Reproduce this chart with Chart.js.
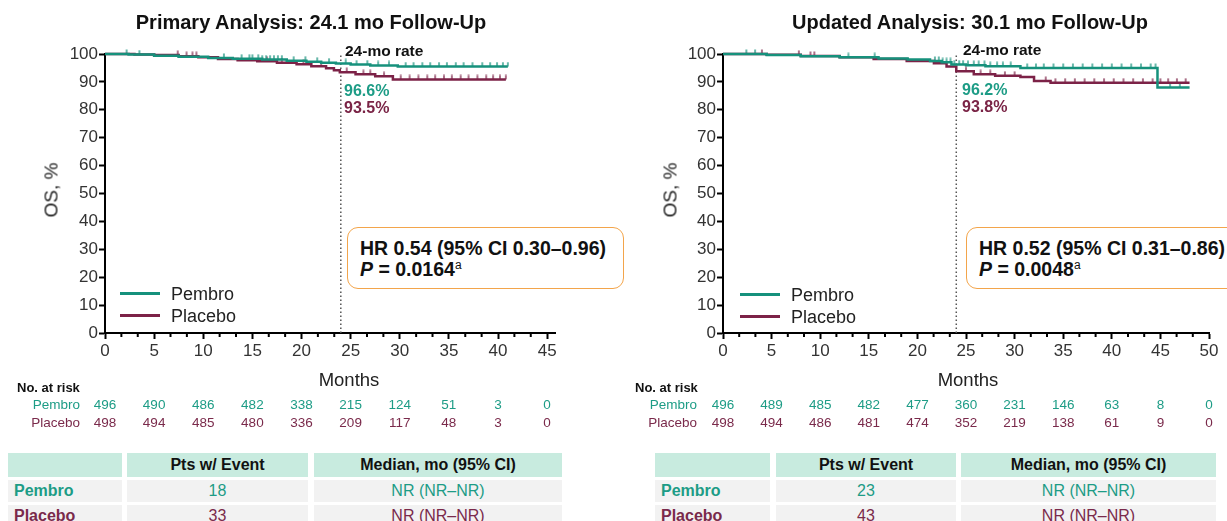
<!DOCTYPE html>
<html>
<head>
<meta charset="utf-8">
<script src="https://cdn.jsdelivr.net/npm/chart.js@4.4.1/dist/chart.umd.min.js"></script>
<style>
  body { margin: 0; width: 1227px; height: 521px; overflow: hidden; background: #fff; position: relative;
         font-family: "Liberation Sans", Arial, sans-serif; color: #222; }
  canvas { position: absolute; top: 0; }
  .t { position: absolute; white-space: nowrap; line-height: 1; }
  .c { transform: translate(-50%, -50%); }
  .l { transform: translateY(-50%); }
  .r { transform: translate(-100%, -50%); }
  .title { font-weight: bold; font-size: 20px; color: #111; }
  .ylab { font-size: 19px; transform: translate(-50%, -50%) rotate(-90deg); }
  .months { font-size: 18.5px; }
  .rate { font-weight: bold; font-size: 15.5px; color: #111; }
  .pct { font-weight: bold; font-size: 16px; }
  .leg { font-size: 18px; }
  .legline { position: absolute; width: 40px; height: 3px; }
  .hrbox { position: absolute; border: 1.5px solid #f3a54b; border-radius: 11px; box-sizing: border-box; background: #fff; }
  .hrbox div { position: absolute; left: 12px; white-space: nowrap; font-weight: bold; font-size: 19.5px; color: #111; line-height: 1; }
  .hrbox sup { font-size: 12px; font-weight: normal; vertical-align: 7px; line-height: 0; }
  .risk { font-size: 13.5px; }
  .riskhead { font-size: 13px; font-weight: bold; color: #111; }
  .cell { position: absolute; display: flex; align-items: center; justify-content: center; font-size: 16px; }
  .hd { background: #c8ebdf; font-weight: bold; color: #111; }
  .row { background: #f2f2f2; }
  .lab { justify-content: flex-start; padding-left: 6px; box-sizing: border-box; font-weight: bold; }
</style>
</head>
<body>
<canvas id="chartA" width="600" height="440" style="left:0"></canvas>
<canvas id="chartB" width="607" height="440" style="left:620px"></canvas>

<div class="t c title" style="left:311px;top:22px">Primary Analysis: 24.1 mo Follow-Up</div>
<div class="t c title" style="left:970px;top:22px">Updated Analysis: 30.1 mo Follow-Up</div>

<div class="t ylab" style="left:51px;top:190px">OS, %</div>
<div class="t ylab" style="left:670px;top:190px">OS, %</div>

<div class="t c months" style="left:349px;top:380px">Months</div>
<div class="t c months" style="left:968px;top:380px">Months</div>

<!-- 24-mo rate notes -->
<div class="t l rate" style="left:345px;top:51px">24-mo rate</div>
<div class="t l pct" style="left:344px;top:91px;color:#1d9c86">96.6%</div>
<div class="t l pct" style="left:344px;top:108px;color:#7a2446">93.5%</div>
<div class="t l rate" style="left:963px;top:50px">24-mo rate</div>
<div class="t l pct" style="left:962px;top:90px;color:#1d9c86">96.2%</div>
<div class="t l pct" style="left:962px;top:107px;color:#7a2446">93.8%</div>

<div class="hrbox" style="left:347px;top:227px;width:277px;height:62px">
  <div style="top:11px">HR 0.54 (95% CI 0.30–0.96)</div>
  <div style="top:32px"><i>P</i> = 0.0164<sup>a</sup></div>
</div>
<div class="hrbox" style="left:966px;top:227px;width:280px;height:62px">
  <div style="top:11px">HR 0.52 (95% CI 0.31–0.86)</div>
  <div style="top:32px"><i>P</i> = 0.0048<sup>a</sup></div>
</div>

<!-- legends -->
<div class="legline" style="left:120px;top:292px;background:#16917c"></div>
<div class="t l leg" style="left:171px;top:294px">Pembro</div>
<div class="legline" style="left:120px;top:314px;background:#7c2247"></div>
<div class="t l leg" style="left:171px;top:316px">Placebo</div>
<div class="legline" style="left:740px;top:293px;background:#16917c"></div>
<div class="t l leg" style="left:791px;top:295px">Pembro</div>
<div class="legline" style="left:740px;top:315px;background:#7c2247"></div>
<div class="t l leg" style="left:791px;top:317px">Placebo</div>

<!-- risk table headers -->
<div class="t l riskhead" style="left:17px;top:387px">No. at risk</div>
<div class="t r risk" style="left:80px;top:405px;color:#1d9c86">Pembro</div>
<div class="t r risk" style="left:80px;top:423px;color:#7a2a4b">Placebo</div>
<div class="t l riskhead" style="left:635px;top:387px">No. at risk</div>
<div class="t r risk" style="left:697px;top:405px;color:#1d9c86">Pembro</div>
<div class="t r risk" style="left:697px;top:423px;color:#7a2a4b">Placebo</div>

<div id="tables"></div>

<script>
const TEAL = '#16917c';
const MAROON = '#7c2247';
const TEAL_TXT = '#1d9c86';
const MAROON_TXT = '#7a2a4b';

// axis ticks
const monthTicksA = [0, 5, 10, 15, 20, 25, 30, 35, 40, 45];
const monthTicksB = [0, 5, 10, 15, 20, 25, 30, 35, 40, 45, 50];
const osTicks = [0, 10, 20, 30, 40, 50, 60, 70, 80, 90, 100];

// primary analysis KM steps (month, OS %)
const pembroTimesA = [0, 2.4, 5.0, 7.5, 10.5, 13.0, 16.0, 18.5, 20.5, 22.0, 23.5, 25.0, 27.0, 29.8, 41.0];
const pembroSurvA  = [100, 99.8, 99.4, 99.0, 98.6, 98.3, 98.0, 97.6, 97.2, 96.9, 96.6, 96.2, 95.9, 95.5, 95.5];
const placeboTimesA = [0, 3.0, 5.0, 7.5, 9.5, 11.5, 13.5, 15.5, 17.5, 19.5, 21.0, 22.5, 23.3, 23.9, 25.5, 27.5, 29.3, 40.8];
const placeboSurvA  = [100, 99.8, 99.6, 99.2, 98.8, 98.2, 97.8, 97.4, 96.9, 96.3, 95.6, 94.9, 94.2, 93.5, 92.7, 92.0, 90.9, 90.9];
const pembroCensorA = [2.2, 3.5, 12.1, 13.9, 14.7, 15.0, 15.6, 16.0, 16.4, 16.8, 17.2, 17.6, 18.0, 19.2, 20.4, 21.6, 22.8,
                       24.5, 25.6, 26.7, 27.8, 28.9, 30.6, 31.4, 32.3, 33.1, 34.0, 34.8, 35.7, 36.5, 37.4, 38.4, 39.2,
                       39.9, 40.5, 41.0];
const placeboCensorA = [7.4, 8.3, 8.9, 9.3, 16.5, 18.0, 20.2, 22.0, 24.6, 26.3, 27.0, 28.4, 30.1, 31.0, 31.9, 32.8, 33.6,
                        34.5, 35.3, 36.2, 37.0, 37.9, 38.8, 39.5, 40.2, 40.8];

// updated analysis KM steps
const pembroTimesB = [0, 4.5, 8.0, 12.0, 16.0, 19.0, 21.3, 22.5, 23.5, 25.0, 27.0, 30.6, 44.7, 48.0];
const pembroSurvB  = [100, 99.6, 99.2, 98.8, 98.4, 98.0, 97.5, 97.0, 96.2, 96.0, 95.6, 95.0, 88.0, 88.0];
const placeboTimesB = [0, 4.5, 8.0, 12.0, 15.5, 18.9, 21.7, 23.0, 24.0, 25.8, 28.0, 30.6, 32.0, 33.7, 48.0];
const placeboSurvB  = [100, 99.7, 99.3, 98.8, 98.2, 97.5, 96.7, 95.5, 93.8, 92.7, 92.2, 91.8, 90.3, 89.7, 89.7];
const pembroCensorB = [2.4, 3.3, 12.9, 15.6, 21.8, 22.2, 22.6, 23.0, 23.4, 23.8, 24.3, 24.7, 25.2, 25.8, 26.3, 26.9, 27.5,
                       28.2, 28.8, 29.6, 31.3, 32.2, 33.0, 34.0, 35.0, 36.0, 37.0, 38.0, 39.0, 40.0, 41.0, 42.0, 43.0,
                       44.0, 44.5, 46.0, 47.0];
const placeboCensorB = [4.0, 7.8, 9.0, 9.4, 25.0, 26.5, 27.5, 29.0, 30.0, 33.2, 34.2, 35.2, 36.2, 37.2, 38.2, 39.2, 40.2,
                        41.2, 42.2, 43.2, 44.2, 45.0, 45.8, 46.7, 47.6];

// number at risk
const riskPembroA  = [496, 490, 486, 482, 338, 215, 124, 51, 3, 0];
const riskPlaceboA = [498, 494, 485, 480, 336, 209, 117, 48, 3, 0];
const riskPembroB  = [496, 489, 485, 482, 477, 360, 231, 146, 63, 8, 0];
const riskPlaceboB = [498, 494, 486, 481, 474, 352, 219, 138, 61, 9, 0];

// summary tables
const tableHead = ['', 'Pts w/ Event', 'Median, mo (95% CI)'];
const eventsA = [18, 33];
const eventsB = [23, 43];
const medianA = ['NR (NR–NR)', 'NR (NR–NR)'];
const medianB = ['NR (NR–NR)', 'NR (NR–NR)'];

function kmPoints(times, surv) {
  return times.map((t, i) => ({ x: t, y: surv[i] }));
}

function survAt(times, surv, t) {
  let s = surv[0];
  for (let i = 0; i < times.length; i++) {
    if (times[i] <= t) s = surv[i];
  }
  return s;
}

function censorPoints(censor, times, surv) {
  return censor.map(t => ({ x: t, y: survAt(times, surv, t) }));
}

// upward censor tick (image centred on the point, mark only in the top half)
function tickMark(color) {
  const c = document.createElement('canvas');
  c.width = 4;
  c.height = 10;
  const g = c.getContext('2d');
  g.strokeStyle = color;
  g.lineWidth = 1.3;
  g.beginPath();
  g.moveTo(2, 0.5);
  g.lineTo(2, 5);
  g.stroke();
  return c;
}

const axisExtras = {
  id: 'axisExtras',
  beforeDatasetsDraw(chart, args, opts) {
    const { ctx, scales: { x, y } } = chart;
    const px = x.getPixelForValue(opts.rateMonth);
    ctx.save();
    ctx.strokeStyle = '#555';
    ctx.lineWidth = 1.5;
    ctx.setLineDash([1.5, 2.5]);
    ctx.beginPath();
    ctx.moveTo(px, y.getPixelForValue(0));
    ctx.lineTo(px, y.getPixelForValue(99.5));
    ctx.stroke();
    ctx.restore();
  },
  afterDraw(chart, args, opts) {
    const { ctx, scales: { x, y } } = chart;
    const yb = y.getPixelForValue(0);
    ctx.save();
    ctx.strokeStyle = '#000';
    ctx.lineWidth = 2;
    for (let i = 0; i < opts.ticks.length - 1; i++) {
      const a = opts.ticks[i];
      const b = opts.ticks[i + 1];
      [1 / 3, 2 / 3].forEach(f => {
        const px = x.getPixelForValue(a + (b - a) * f);
        ctx.beginPath();
        ctx.moveTo(px, yb);
        ctx.lineTo(px, yb + 4);
        ctx.stroke();
      });
    }
    ctx.restore();
  }
};

function makeChart(id, p) {
  const axisFont = { family: '"Liberation Sans", Arial, sans-serif', size: 17 };
  const grid = { drawOnChartArea: false, color: '#000', tickColor: '#000', tickLength: 6, tickWidth: 2 };
  return new Chart(document.getElementById(id), {
    type: 'line',
    data: {
      datasets: [
        { data: kmPoints(p.pembroT, p.pembroS), borderColor: TEAL, borderWidth: 2.5, stepped: true, pointRadius: 0, clip: false },
        { data: kmPoints(p.placeboT, p.placeboS), borderColor: MAROON, borderWidth: 2.5, stepped: true, pointRadius: 0, clip: false },
        { data: censorPoints(p.pembroC, p.pembroT, p.pembroS), showLine: false, pointStyle: tickMark(TEAL),
          pointRadius: 5, clip: false },
        { data: censorPoints(p.placeboC, p.placeboT, p.placeboS), showLine: false, pointStyle: tickMark(MAROON),
          pointRadius: 5, clip: false }
      ]
    },
    options: {
      responsive: false,
      animation: false,
      events: [],
      layout: { padding: { left: 0, top: 54, right: p.padRight, bottom: 0 } },
      plugins: {
        legend: { display: false },
        tooltip: { enabled: false },
        axisExtras: { ticks: p.xTicks, rateMonth: 24 }
      },
      scales: {
        x: {
          type: 'linear', min: 0, max: p.xMax,
          afterBuildTicks: s => { s.ticks = p.xTicks.map(v => ({ value: v })); },
          afterFit: s => { s.height = 107; },
          grid: grid,
          border: { color: '#000', width: 2 },
          ticks: { color: '#333', font: axisFont, padding: 2, maxRotation: 0 }
        },
        y: {
          min: 0, max: 100,
          afterBuildTicks: s => { s.ticks = osTicks.map(v => ({ value: v })); },
          afterFit: s => { s.width = p.yWidth; },
          grid: grid,
          border: { color: '#000', width: 2 },
          ticks: { color: '#333', font: axisFont, padding: 1 }
        }
      }
    },
    plugins: [axisExtras]
  });
}

const chartA = makeChart('chartA', {
  pembroT: pembroTimesA, pembroS: pembroSurvA, placeboT: placeboTimesA, placeboS: placeboSurvA,
  pembroC: pembroCensorA, placeboC: placeboCensorA,
  xTicks: monthTicksA, xMax: 45.8, yWidth: 105, padRight: 45
});
const chartB = makeChart('chartB', {
  pembroT: pembroTimesB, pembroS: pembroSurvB, placeboT: placeboTimesB, placeboS: placeboSurvB,
  pembroC: pembroCensorB, placeboC: placeboCensorB,
  xTicks: monthTicksB, xMax: 50, yWidth: 103, padRight: 18
});

const holder = document.getElementById('tables');

function addText(text, x, y, cls, color) {
  const d = document.createElement('div');
  d.className = 't c ' + cls;
  d.style.left = x + 'px';
  d.style.top = y + 'px';
  if (color) d.style.color = color;
  d.textContent = text;
  holder.appendChild(d);
}

function riskRows(chart, offset, ticks, pembro, placebo) {
  ticks.forEach((t, i) => {
    const px = chart.scales.x.getPixelForValue(t) + offset;
    addText(String(pembro[i]), px, 405, 'risk', TEAL_TXT);
    addText(String(placebo[i]), px, 423, 'risk', MAROON_TXT);
  });
}
riskRows(chartA, 0, monthTicksA, riskPembroA, riskPlaceboA);
riskRows(chartB, 620, monthTicksB, riskPembroB, riskPlaceboB);

function addCell(text, x0, x1, y0, y1, cls, color) {
  const d = document.createElement('div');
  d.className = 'cell ' + cls;
  d.style.left = x0 + 'px';
  d.style.top = y0 + 'px';
  d.style.width = (x1 - x0) + 'px';
  d.style.height = (y1 - y0) + 'px';
  if (color) d.style.color = color;
  d.textContent = text;
  holder.appendChild(d);
}

function summaryTable(cols, events, medians) {
  const rowsY = [[480, 502], [505, 527]];
  const names = ['Pembro', 'Placebo'];
  const colors = [TEAL_TXT, MAROON_TXT];
  tableHead.forEach((h, i) => addCell(h, cols[i][0], cols[i][1], 453, 477, 'hd'));
  names.forEach((n, r) => {
    const [y0, y1] = rowsY[r];
    addCell(n, cols[0][0], cols[0][1], y0, y1, 'row lab', colors[r]);
    addCell(String(events[r]), cols[1][0], cols[1][1], y0, y1, 'row', colors[r]);
    addCell(medians[r], cols[2][0], cols[2][1], y0, y1, 'row', colors[r]);
  });
}
summaryTable([[8, 122], [127, 308], [314, 562]], eventsA, medianA);
summaryTable([[655, 770], [776, 956], [961, 1216]], eventsB, medianB);
</script>
</body>
</html>
